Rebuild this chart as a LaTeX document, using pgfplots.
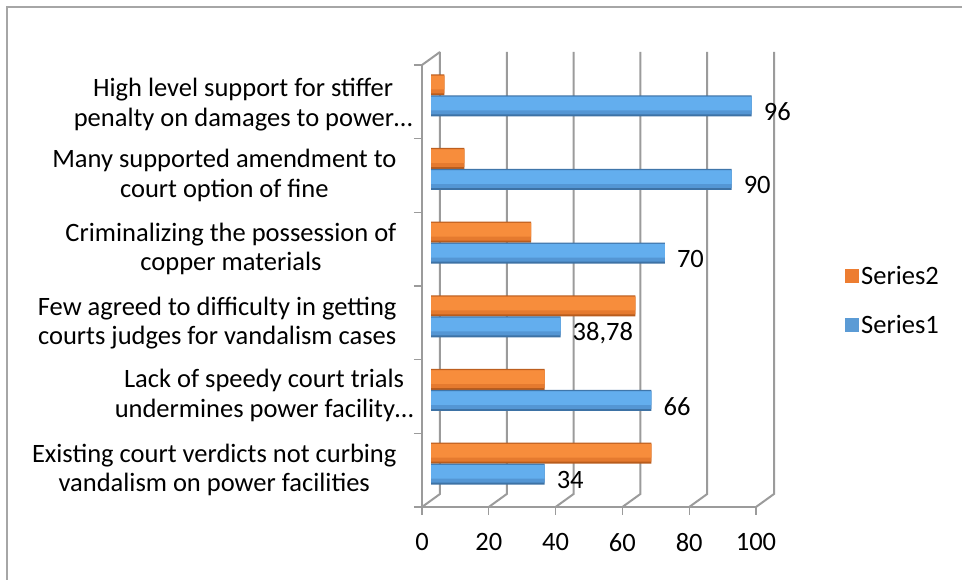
\documentclass[border=0pt]{standalone}
\usepackage{pgfplots}
\pgfplotsset{compat=1.18}
\usepackage{fontspec}
\setmainfont{Carlito}
\definecolor{gridc}{HTML}{9B9B9B}
\definecolor{framec}{HTML}{A6A6A6}
\definecolor{s1}{HTML}{5B9BD5}
\definecolor{s1top}{HTML}{63AEEE}
\definecolor{s1mid}{HTML}{5496D4}
\definecolor{s1d}{HTML}{3D72A5}
\definecolor{s2}{HTML}{ED7D31}
\definecolor{s2top}{HTML}{F78D3C}
\definecolor{s2mid}{HTML}{E57A2F}
\definecolor{s2d}{HTML}{B85C1D}
\newcommand{\cf}{\fontsize{26.5}{29.5}\selectfont}
\begin{document}
\begin{tikzpicture}[x=1pt,y=1pt]
\useasboundingbox (0,0) rectangle (962,580);
\draw[framec, line width=1.8pt] (7,0) -- (7,573) -- (962,573);
\begin{axis}[
  at={(422pt,73pt)}, anchor=south west, scale only axis,
  width=334pt, height=442pt,
  xmin=0, xmax=100, ymin=-0.5, ymax=5.5,
  axis x line=bottom, axis y line=left,
  axis line style={-, gridc, line width=2pt},
  xtick={0,20,...,100},
  ytick={-0.5,0.5,...,5.5}, yticklabels={},
  tick align=outside, major tick length=8pt,
  tick style={gridc, line width=1.2pt},
  extra y ticks={0,1,2,3,4,5},
  extra y tick style={major tick length=0pt},
  extra y tick labels={
    {Existing court verdicts not curbing\\vandalism on power facilities},
    {\begin{tabular}{@{}c@{}}Lack of speedy court trials\\undermines power facility…\end{tabular}\hspace*{-17pt}},
    {Few agreed to difficulty in getting\\courts judges for vandalism cases},
    {Criminalizing the possession of\\copper materials},
    {Many supported amendment to\\court option of fine},
    {\raisebox{-4pt}[\height][\depth]{\begin{tabular}{@{}c@{}}High level support for stiffer\\penalty on damages to power…\end{tabular}}\hspace*{-16pt}}},
  yticklabel style={align=center, font=\cf, xshift=-22pt},
  xticklabel style={font=\cf, yshift=-15pt},
  /pgf/number format/assume math mode=true,
  clip=false,
]
\pgfplotsinvokeforeach{0,20,40,60,80,100}{
  \draw[gridc, line width=2pt] (axis cs:#1,-0.5) -- ([shift={(18pt,13pt)}]axis cs:#1,-0.5) -- ([shift={(18pt,13pt)}]axis cs:#1,5.5);
}
\draw[gridc, line width=2pt] (axis cs:0,5.5) -- ([shift={(18pt,13pt)}]axis cs:0,5.5);
\end{axis}
\begin{axis}[
  at={(431pt,79.5pt)}, anchor=south west, scale only axis,
  width=334pt, height=442pt,
  xmin=0, xmax=100, ymin=-0.5, ymax=5.5,
  hide axis, clip=false,
  xbar, bar width=21pt,
  legend style={at={(1.2395,0.535)}, anchor=north west, draw=none, fill=none,
    row sep=25pt, inner sep=0pt,
    /tikz/every even column/.append style={column sep=9pt}},
  legend cell align=left,
]
% Series2 (orange)
\addplot[draw=none, fill=s2d, bar shift=10.5pt, bar width=21pt,
  legend image code/.code={\fill[s2] (0pt,-7pt) rectangle (14pt,7pt);}]
  coordinates {(66,0) (34,1) (61.22,2) (30,3) (10,4) (4,5)};
\addlegendentry{\cf Series2}
\addplot[forget plot, draw=none, fill=s2mid, bar shift=11pt, bar width=18pt]
  coordinates {(66,0) (34,1) (61.22,2) (30,3) (10,4) (4,5)};
\addplot[forget plot, draw=none, fill=s2top, bar shift=12.75pt, bar width=13.5pt]
  coordinates {(66,0) (34,1) (61.22,2) (30,3) (10,4) (4,5)};
% Series1 (blue)
\addplot[draw=none, fill=s1d, bar shift=-10.5pt, bar width=21pt,
  legend image code/.code={\fill[s1] (0pt,-7pt) rectangle (14pt,7pt);},
  point meta=explicit symbolic, nodes near coords,
  nodes near coords style={anchor=west, inner sep=0pt, xshift=12pt, yshift=-6pt, text=black,
    font=\cf}]
  coordinates {(34,0) [34] (66,1) [66] (38.78,2) [38{,}78] (70,3) [70] (90,4) [90] (96,5) [96]};
\addlegendentry{\cf Series1}
\addplot[forget plot, draw=none, fill=s1mid, bar shift=-10pt, bar width=18pt]
  coordinates {(34,0) (66,1) (38.78,2) (70,3) (90,4) (96,5)};
\addplot[forget plot, draw=none, fill=s1top, bar shift=-8.25pt, bar width=13.5pt]
  coordinates {(34,0) (66,1) (38.78,2) (70,3) (90,4) (96,5)};
\end{axis}
\end{tikzpicture}
\end{document}
